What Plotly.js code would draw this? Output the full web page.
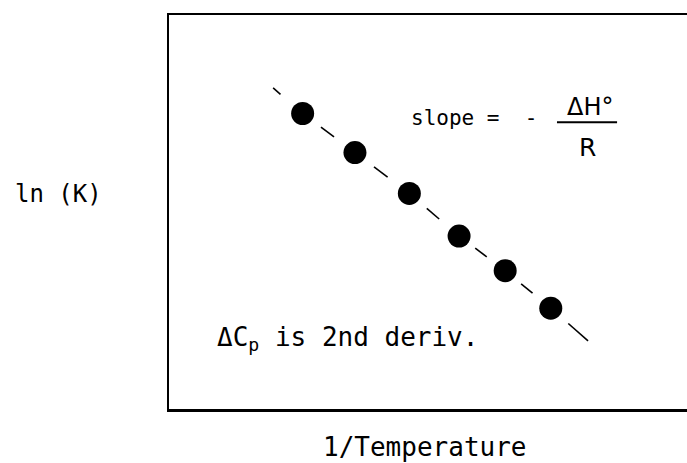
<!DOCTYPE html>
<html>
<head>
<meta charset="utf-8">
<script src="https://cdn.plot.ly/plotly-3.0.1.min.js"></script>
<style>
  html, body { margin: 0; padding: 0; background: #fff; }
  #chart { width: 687px; height: 463px; }
</style>
</head>
<body>
<div id="chart"></div>
<script>
// ---- data (arbitrary units: x = 1/T, y = ln K) ----
var invTemp = [2.58, 3.59, 4.64, 5.60, 6.49, 7.37];
var lnK     = [7.50, 6.51, 5.47, 4.39, 3.51, 2.56];
// ends of the dashed guide curve
var guideStartX = 2.01, guideStartY = 8.15;
var guideEndX   = 8.09, guideEndY   = 1.73;

var xLabel = "1/Temperature";
var yLabel = "ln (K)";
var slopeLabel = "slope =  -";
var fracTop = "ΔH°";
var fracBottom = "R";
var noteLabel = "ΔC<sub>p</sub> is 2nd deriv.";

// ---- dashed guide through the points ----
var pathX = [guideStartX].concat(invTemp, [guideEndX]);
var pathY = [guideStartY].concat(lnK, [guideEndY]);
var nGaps = pathX.length - 1;
var dashX = [], dashY = [];
for (var i = 0; i < nGaps; i++) {
  var t0 = 0.35, t1 = 0.60;
  if (i === 0) { t0 = 0.0; t1 = 0.25; }
  if (i === nGaps - 1) { t0 = 0.47; t1 = 1.0; }
  var dx = pathX[i + 1] - pathX[i], dy = pathY[i + 1] - pathY[i];
  dashX.push(pathX[i] + t0 * dx, pathX[i] + t1 * dx, null);
  dashY.push(pathY[i] + t0 * dy, pathY[i] + t1 * dy, null);
}

var FONT = "DejaVu Sans Mono, monospace";

var traces = [
  {
    x: dashX, y: dashY, mode: "lines", type: "scatter",
    line: { color: "#000", width: 1.6 }, hoverinfo: "skip", connectgaps: false
  },
  {
    x: invTemp, y: lnK, mode: "markers", type: "scatter",
    marker: { color: "#000", size: 23, line: { width: 0 } }
  }
];

var layout = {
  width: 687, height: 463,
  margin: { l: 169, r: 0, t: 15, b: 54, pad: 0 },
  paper_bgcolor: "#fff", plot_bgcolor: "#fff",
  showlegend: false,
  xaxis: {
    range: [0, 10], showgrid: false, zeroline: false, showticklabels: false, ticks: "",
    showline: true, mirror: true, linecolor: "#000", linewidth: 2.5, fixedrange: true
  },
  yaxis: {
    range: [0, 10], showgrid: false, zeroline: false, showticklabels: false, ticks: "",
    showline: true, mirror: false, linecolor: "#000", linewidth: 2.5, fixedrange: true
  },
  shapes: [
    { type: "line", xref: "x", yref: "y", x0: 7.49, x1: 8.65, y0: 7.28, y1: 7.28,
      line: { color: "#000", width: 2 } }
  ],
  annotations: [
    { text: xLabel, xref: "paper", yref: "paper", x: 0.494, y: -0.096,
      xanchor: "center", yanchor: "middle", showarrow: false,
      font: { family: FONT, size: 26, color: "#000" } },
    { text: yLabel, xref: "paper", yref: "paper", x: -0.214, y: 0.546,
      xanchor: "center", yanchor: "middle", showarrow: false,
      font: { family: FONT, size: 24, color: "#000" } },
    { text: slopeLabel, xref: "x", yref: "y", x: 4.63, y: 7.39,
      xanchor: "left", yanchor: "middle", showarrow: false,
      font: { family: FONT, size: 21, color: "#000" } },
    { text: fracTop, xref: "x", yref: "y", x: 8.13, y: 7.66,
      xanchor: "center", yanchor: "middle", showarrow: false,
      font: { family: "DejaVu Sans, sans-serif", size: 24, color: "#000" } },
    { text: fracBottom, xref: "x", yref: "y", x: 8.07, y: 6.64,
      xanchor: "center", yanchor: "middle", showarrow: false,
      font: { family: "DejaVu Sans, sans-serif", size: 25, color: "#000" } },
    { text: noteLabel, xref: "x", yref: "y", x: 0.89, y: 1.80,
      xanchor: "left", yanchor: "middle", showarrow: false,
      font: { family: FONT, size: 26, color: "#000" } }
  ]
};

Plotly.newPlot("chart", traces, layout, { displayModeBar: false, staticPlot: true });
</script>
</body>
</html>
